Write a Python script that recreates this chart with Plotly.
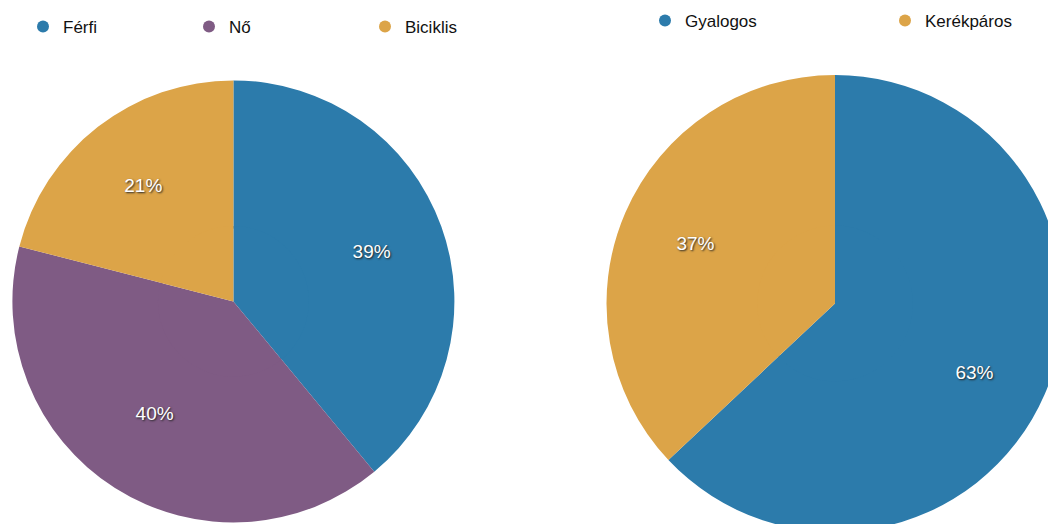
import plotly.graph_objects as go

# left pie
gender_labels = ["Férfi", "Nő", "Biciklis"]
gender_values = [39, 40, 21]
gender_colors = ["#2C7BAB", "#7F5B84", "#DCA448"]

# right pie
mode_labels = ["Gyalogos", "Kerékpáros"]
mode_values = [63, 37]
mode_colors = ["#2C7BAB", "#DCA448"]

W, H = 1056, 524
FONT = "Helvetica, Arial, Liberation Sans, sans-serif"
label_font = dict(family=FONT, size=19, color="white", shadow="1px 1px 2px #222")
HOLE = 0.33  # pushes the % labels outwards; the hole is filled by a small pie below


def dom(cx, cy, half):
    """domain from centre (px from left / top of the figure) and half size"""
    x0, x1 = max(cx - half, 0) / W, min(cx + half, W) / W
    y0, y1 = max(H - cy - half, 0) / H, min(H - cy + half, H) / H
    return dict(x=[x0, x1], y=[y0, y1])


def add_pie(labels, values, colors, cx, cy, half, templates):
    common = dict(labels=labels, values=values, sort=False, direction="clockwise",
                  rotation=0, showlegend=False, hoverinfo="label+percent",
                  marker=dict(colors=colors, line=dict(width=0)))
    fig.add_trace(go.Pie(
        **common, hole=HOLE,
        texttemplate=templates, textposition="inside", insidetextorientation="horizontal",
        textfont=label_font, domain=dom(cx, cy, half),
    ))
    fig.add_trace(go.Pie(
        **common, textinfo="none", domain=dom(cx, cy, HOLE * half + 2.5),
    ))


fig = go.Figure()
add_pie(gender_labels, gender_values, gender_colors, 225.4, 293.4, 221,
        ["%{percent}", "%{percent}<br>\u00a0", "%{percent}"])
add_pie(mode_labels, mode_values, mode_colors, 827, 295.5, 228.5,
        ["<span style='font-size:10px'>\u00a0</span><br>%{percent}", "%{percent}"])

# one small legend per entry, so each can sit where the reference has it
legend_x = [15, 181, 357, 637, 877]
legend_y = [19, 19, 19, 13, 13]
names = gender_labels + mode_labels
colors = gender_colors + mode_colors

legend_style = dict(orientation="h", xanchor="left", yanchor="middle",
                    font=dict(family=FONT, size=17, color="#111"),
                    bgcolor="rgba(0,0,0,0)", itemclick=False, itemdoubleclick=False)

layout_legends = {}
for i, (name, color) in enumerate(zip(names, colors)):
    key = "legend" if i == 0 else f"legend{i + 1}"
    fig.add_trace(go.Scatter(x=[None], y=[None], mode="markers", name=name,
                             marker=dict(symbol="circle", size=12, color=color),
                             legend=key))
    layout_legends[key] = dict(x=legend_x[i] / W, y=1 - legend_y[i] / H, **legend_style)

fig.update_layout(
    width=W, height=H,
    margin=dict(l=0, r=0, t=0, b=0, autoexpand=False),
    paper_bgcolor="white", plot_bgcolor="white",
    xaxis=dict(visible=False), yaxis=dict(visible=False),
    **layout_legends,
)

# the figure overhangs the window a little (the right pie is cut by the edge)
fig.write_html("out.html", post_script="document.documentElement.style.overflow = 'hidden';")
